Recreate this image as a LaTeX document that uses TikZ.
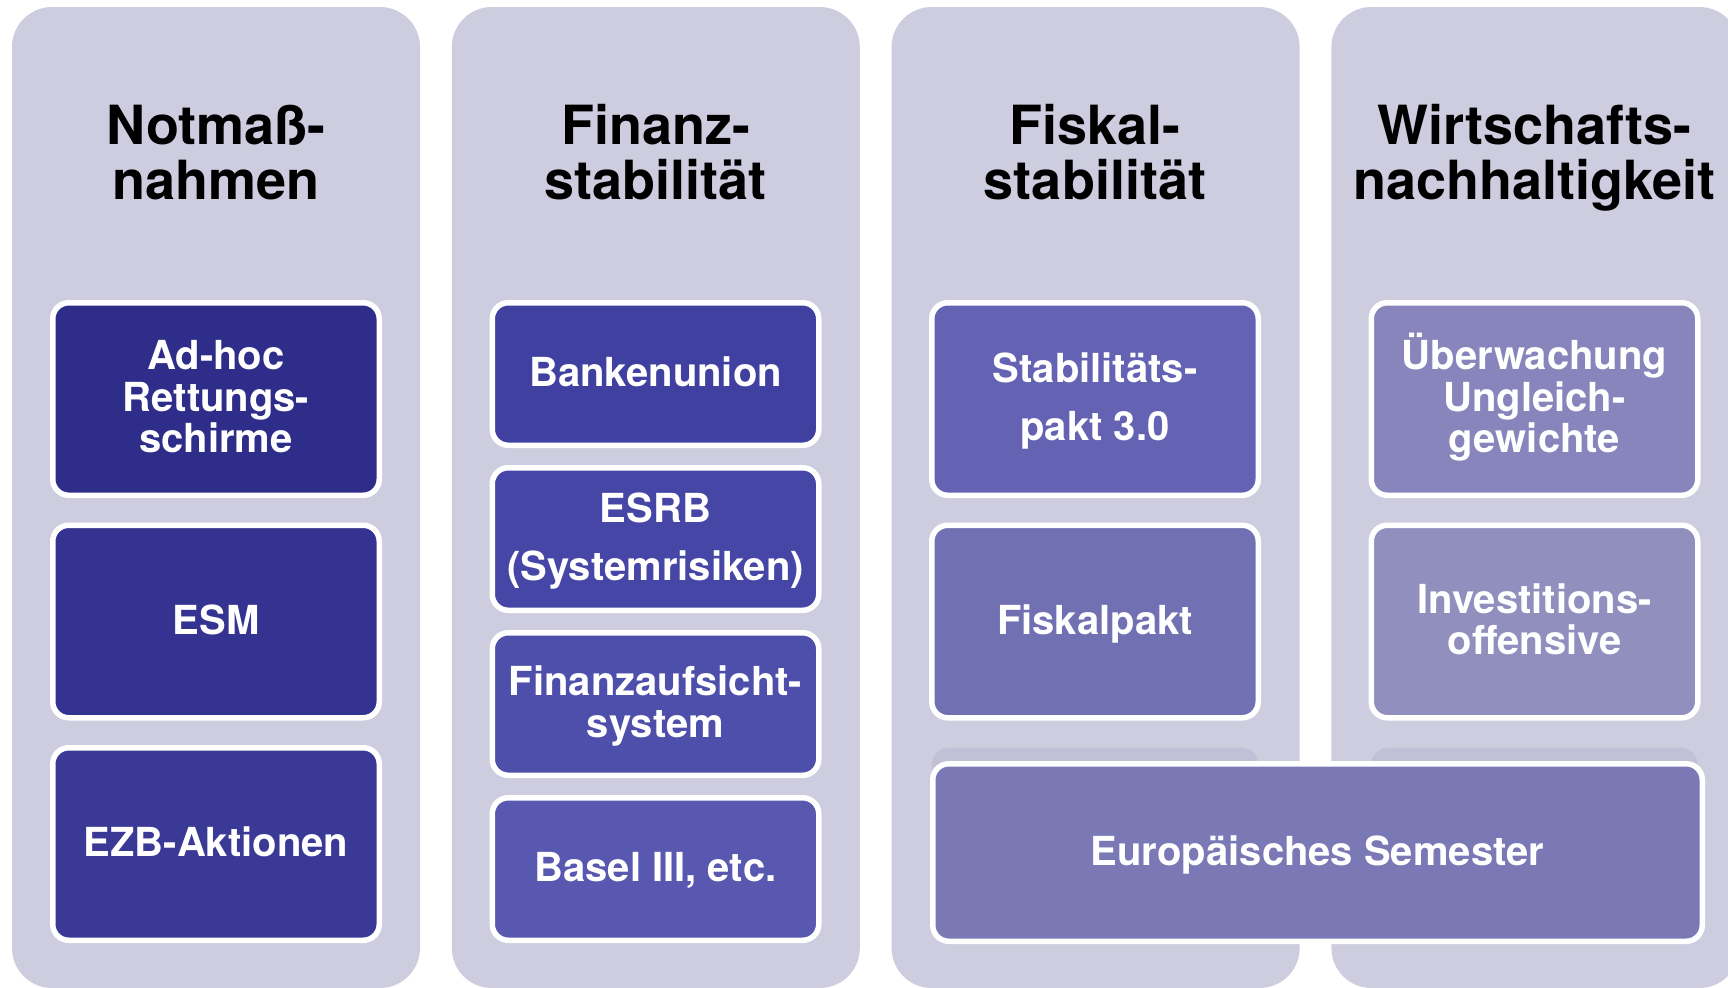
\documentclass[tikz,border=0pt]{standalone}
\usepackage{fontspec}
\setmainfont{TeX Gyre Heros}
\usetikzlibrary{positioning}

\definecolor{colbg}{RGB}{206,205,224}
\definecolor{ghostbg}{RGB}{193,192,215}
\definecolor{notA}{RGB}{46,46,138}
\definecolor{notB}{RGB}{52,51,145}
\definecolor{notC}{RGB}{58,57,150}
\definecolor{finA}{RGB}{64,64,160}
\definecolor{finB}{RGB}{70,70,166}
\definecolor{finC}{RGB}{78,78,171}
\definecolor{finD}{RGB}{88,88,176}
\definecolor{fisA}{RGB}{99,98,179}
\definecolor{fisB}{RGB}{113,112,179}
\definecolor{wirA}{RGB}{135,133,187}
\definecolor{wirB}{RGB}{145,143,190}
\definecolor{semcol}{RGB}{123,121,181}

\begin{document}
\begin{tikzpicture}[x=0.5pt,y=-0.5pt]
\tikzstyle{column}=[rectangle, rounded corners=20pt, fill=colbg, minimum width=204pt, minimum height=490.5pt, inner sep=0pt]
\tikzstyle{head}=[align=center, font=\fontsize{27pt}{27.5pt}\selectfont\bfseries, text depth=0pt]
\tikzstyle{item}=[rectangle, rounded corners=8pt, draw=white, line width=2.75pt, text=white, align=center, font=\fontsize{20pt}{20.75pt}\selectfont\bfseries, text depth=2.2pt, minimum width=163.25pt]
\tikzstyle{tall}=[item, minimum height=96.25pt, node distance=12.25pt]
\tikzstyle{flat}=[item, minimum height=71.25pt, node distance=8.5pt]
\tikzstyle{wide}=[font=\fontsize{20pt}{29pt}\selectfont\bfseries]
\tikzstyle{ghost}=[rectangle, rounded corners=8pt, fill=ghostbg, minimum width=163pt, minimum height=96pt]
  \useasboundingbox (0,0) rectangle (1728,987);
  \clip (0,0) rectangle (1728,987);
  % columns
  \node[column] (c1) at (216,497.5) {};
  \node[column] (c2) [right=15.5pt of c1] {};
  \node[column] (c3) [right=15.5pt of c2] {};
  \node[column] (c4) [right=15.5pt of c3] {};
  \node[head] (h1) at (216,152) {Notmaß-\\nahmen};
  \node[head] (h2) at (655.5,152) {Finanz-\\stabilität};
  \node[head] (h3) at (1095,152) {Fiskal-\\stabilität};
  \node[head] (h4) at (1534.5,152) {Wirtschafts-\\nachhaltigkeit};
  % Notmassnahmen
  \node[tall, fill=notA] (adhoc) at (216,399) {Ad-hoc\\Rettungs-\\schirme};
  \node[tall, fill=notB] (esm) [below=of adhoc] {ESM};
  \node[tall, fill=notC] (ezb) [below=of esm] {EZB-Aktionen};
  % Finanzstabilitaet
  \node[flat, fill=finA] (banken) at (655.5,374) {Bankenunion};
  \node[flat, fill=finB, wide] (esrb) [below=of banken] {ESRB\\(Systemrisiken)};
  \node[flat, fill=finC] (aufsicht) [below=of esrb] {Finanzaufsicht-\\system};
  \node[flat, fill=finD] (basel) [below=of aufsicht] {Basel III, etc.};
  % Fiskalstabilitaet
  \node[tall, fill=fisA, wide] (stab) at (1095,399) {Stabilitäts-\\pakt 3.0};
  \node[tall, fill=fisB] (fiskal) [below=of stab] {Fiskalpakt};
  \node[ghost] (g3) [below=13.5pt of fiskal] {};
  % Wirtschaftsnachhaltigkeit
  \node[tall, fill=wirA] (ueberw) at (1534.5,399) {\smash{Ü}berwachung\\Ungleich-\\gewichte};
  \node[tall, fill=wirB] (invest) [below=of ueberw] {Investitions-\\offensive};
  \node[ghost] (g4) [below=13.5pt of invest] {};
  \node[item, fill=semcol, minimum width=384.75pt, minimum height=88.75pt] (semester) at (1317.5,852.5) {Europäisches Semester};
\end{tikzpicture}
\end{document}
